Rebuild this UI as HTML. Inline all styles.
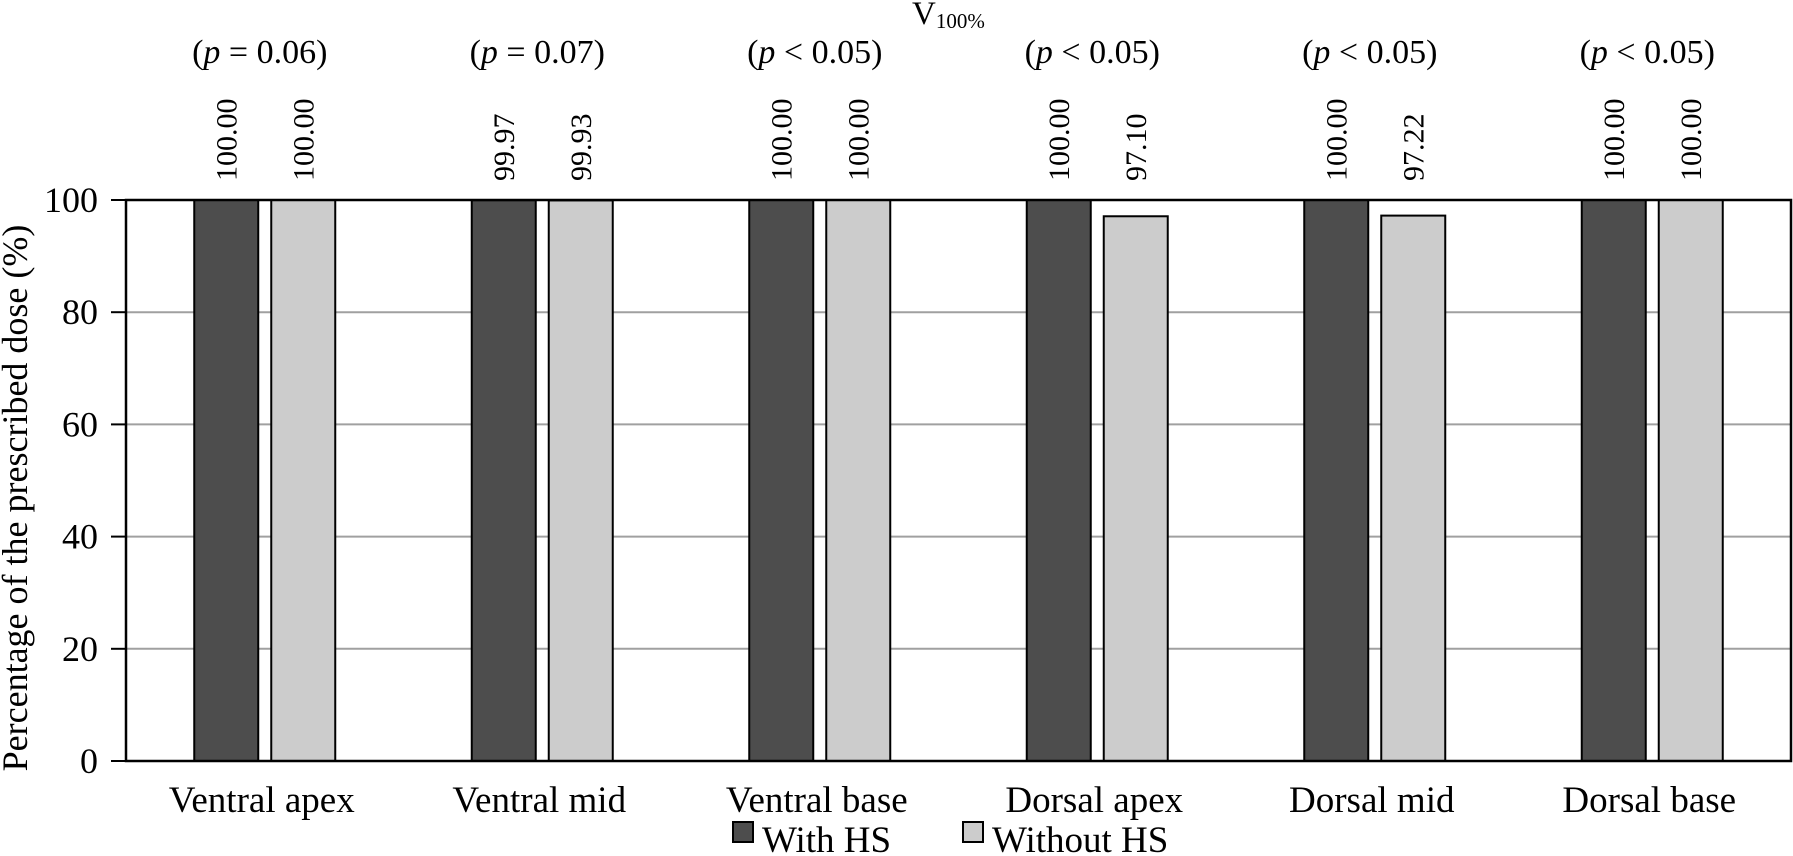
<!DOCTYPE html>
<html><head><meta charset="utf-8">
<style>
html,body{margin:0;padding:0;background:#fff;}
svg{display:block;font-family:"Liberation Serif",serif;}
</style></head>
<body>
<svg id="chart" width="1793" height="856" viewBox="0 0 1793 856">
  <g>
    <text x="912" y="24" font-size="33">V<tspan font-size="21" dy="4">100%</tspan></text>
  </g>
  <g id="grid"></g>
  <g id="bars"></g>
  <g id="labels"></g>
  <g id="axes"></g>
  <text transform="translate(27,498) rotate(-90)" text-anchor="middle" font-size="36">Percentage of the prescribed dose (%)</text>
  <g>
    <g>
      <rect x="733" y="822" width="20" height="20" fill="#4d4d4d" stroke="#000" stroke-width="2"/>
      <text x="762" y="852" font-size="37">With HS</text>
    </g>
    <g>
      <rect x="963" y="822" width="20" height="20" fill="#cccccc" stroke="#000" stroke-width="2"/>
      <text x="992" y="852" font-size="37">Without HS</text>
    </g>
  </g>
</svg>
<script>
const categories = ["Ventral apex","Ventral mid","Ventral base","Dorsal apex","Dorsal mid","Dorsal base"];
const withHS = [100.00, 99.97, 100.00, 100.00, 100.00, 100.00];
const withoutHS = [100.00, 99.93, 100.00, 97.10, 97.22, 100.00];
const withLabels = ["100.00","99.97","100.00","100.00","100.00","100.00"];
const withoutLabels = ["100.00","99.93","100.00","97.10","97.22","100.00"];
const pLabels = ["= 0.06","= 0.07","< 0.05","< 0.05","< 0.05","< 0.05"];
const yTicks = [0,20,40,60,80,100];

const NS = "http://www.w3.org/2000/svg";
const L = 126, R = 1791, T = 200, B = 761;
const y = v => B - (v/100)*(B-T);
const gw = (R-L)/categories.length;
const gx = i => L + gw*(i+0.5);
const bw = 64, off = 38.5;
function mk(tag, attrs, parent){const e=document.createElementNS(NS,tag);for(const k in attrs)e.setAttribute(k,attrs[k]);parent.appendChild(e);return e;}
const grid=document.getElementById('grid'), bars=document.getElementById('bars'), labels=document.getElementById('labels'), axes=document.getElementById('axes');

yTicks.forEach(t=>{
  if(t>0 && t<100){
    const g=mk('line',{x1:L,x2:R,y1:y(t),y2:y(t),stroke:'#a0a0a0','stroke-width':2},grid);
    
    
  }
  const tk=mk('line',{x1:111,x2:L,y1:y(t),y2:y(t),stroke:'#000','stroke-width':2},axes);
  
  
  const tl=mk('text',{x:98,y:y(t)+12,'text-anchor':'end','font-size':36},axes);
  tl.textContent=t;
  
  
});

categories.forEach((c,i)=>{
  const cx=gx(i);
  const b1=mk('rect',{x:cx-off-bw/2,y:y(withHS[i]),width:bw,height:B-y(withHS[i]),fill:'#4d4d4d',stroke:'#000','stroke-width':2},bars);
  
  
  const b2=mk('rect',{x:cx+off-bw/2,y:y(withoutHS[i]),width:bw,height:B-y(withoutHS[i]),fill:'#cccccc',stroke:'#000','stroke-width':2},bars);
  
  
  [[cx-off,withLabels[i],'with'],[cx+off,withoutLabels[i],'without']].forEach(([x,s,n])=>{
    const t=mk('text',{transform:`translate(${x+10},181) rotate(-90)`,'font-size':30,'text-anchor':'start'},labels);
    t.textContent=s;
    
    
  });
  const p=mk('text',{x:cx-5,y:63,'text-anchor':'middle','font-size':34},labels);
  p.innerHTML='(<tspan font-style="italic">p</tspan> '+pLabels[i].replace('<','&lt;')+')';
  
  
  const cl=mk('text',{x:cx-3,y:812,'text-anchor':'middle','font-size':37},labels);
  cl.textContent=c;
  
  
});

const frame=mk('rect',{x:L,y:T,width:R-L,height:B-T,fill:'none',stroke:'#000','stroke-width':2.5},axes);


</script>
</body></html>
